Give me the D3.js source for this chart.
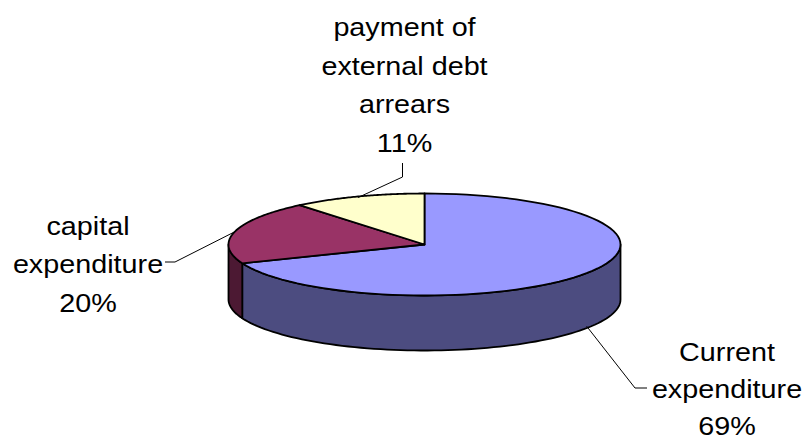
<!DOCTYPE html>
<html>
<head>
<meta charset="utf-8">
<script src="https://cdn.jsdelivr.net/npm/d3@7"></script>
<style>
  html, body { margin: 0; padding: 0; background: #fff; }
  svg { display: block; }
  text { font-family: "Liberation Sans", Arial, sans-serif; font-size: 25px; fill: #000; }
</style>
</head>
<body>
<svg id="chart" width="808" height="442"></svg>
<script>
// Budget breakdown, shares in percent
const categories = ["Current expenditure", "capital expenditure", "payment of external debt arrears"];
const values = [69, 20, 11];
const topColors = ["#9999FF", "#993366", "#FFFFCC"];
const sideColors = ["#4C4C80", "#4C1933", "#80806A"];

// Label text lines for each slice (name lines, then the percentage)
const labelLines = [
  ["Current", "expenditure"],
  ["capital", "expenditure"],
  ["payment of", "external debt", "arrears"]
];
// Label block placement: centre x, first baseline y, line spacing
const labelPos = [
  { x: 727, y: 361, lh: 37 },
  { x: 88, y: 235, lh: 38.3 },
  { x: 404.5, y: 36, lh: 38.6 }
];
const textStretch = 1.15;

const svg = d3.select("#chart");

// Ellipse geometry of the tilted disc
const cx = 424.5, cy = 244.5, rx = 196, ry = 51, depth = 55;

const pie = d3.pie().sort(null).startAngle(0).endAngle(2 * Math.PI);
const arcs = pie(values);

// Point on the top rim for an angle measured clockwise from 12 o'clock
const rim = (a, dy = 0) => [cx + rx * Math.sin(a), cy - ry * Math.cos(a) + dy];

function rimPath(a0, a1, dy, n = 80) {
  const pts = [];
  for (let i = 0; i <= n; i++) pts.push(rim(a0 + (a1 - a0) * i / n, dy));
  return pts;
}

const line = d3.line();

// Side walls: only the front half (angles between PI/2 and 3PI/2) is seen
const sideG = svg.append("g");
arcs.forEach((d, i) => {
  const a0 = Math.max(d.startAngle, Math.PI / 2);
  const a1 = Math.min(d.endAngle, 3 * Math.PI / 2);
  if (a1 <= a0) return;
  const top = rimPath(a0, a1, 0);
  const bottom = rimPath(a0, a1, depth).reverse();
  sideG.append("path")
    .attr("d", line(top.concat(bottom)) + "Z")
    .attr("fill", sideColors[i])
    .attr("stroke", "#000")
    .attr("stroke-width", 1.8)
    .attr("stroke-linejoin", "round");
});

// Top faces
const topG = svg.append("g");
arcs.forEach((d, i) => {
  const pts = [[cx, cy]].concat(rimPath(d.startAngle, d.endAngle, 0));
  topG.append("path")
    .attr("d", line(pts) + "Z")
    .attr("fill", topColors[i])
    .attr("stroke", "#000")
    .attr("stroke-width", 1.8)
    .attr("stroke-linejoin", "round");
});

// Leader lines from slice mid-angle to label
const leaderG = svg.append("g").attr("fill", "none").attr("stroke", "#000").attr("stroke-width", 1);
const mid = d => (d.startAngle + d.endAngle) / 2;
{
  // Current expenditure: from the front wall bottom, down-right, then a short horizontal tick
  const p = rim(mid(arcs[0]), depth - 2);
  leaderG.append("path").attr("d", line([p, [635, 388], [647, 388]]));
  // capital expenditure: from the left rim to the label's right side
  const q = rim(mid(arcs[1]));
  leaderG.append("path").attr("d", line([q, [175, 262], [165, 262]]));
  // payment of external debt arrears: from the back rim up to the label
  const r = rim(mid(arcs[2]), 1);
  leaderG.append("path").attr("d", line([r, [402.5, 177], [402.5, 163]]));
}

// Labels (slightly widened glyphs)
const labelG = svg.append("g");
arcs.forEach((d, i) => {
  const lines = labelLines[i].concat([values[i] + "%"]);
  const t = labelG.append("text")
    .attr("text-anchor", "middle")
    .attr("transform", `translate(${labelPos[i].x},${labelPos[i].y}) scale(${textStretch},1)`);
  lines.forEach((s, k) => {
    t.append("tspan")
      .attr("x", 0)
      .attr("y", k * labelPos[i].lh)
      .text(s);
  });
});
</script>
</body>
</html>
